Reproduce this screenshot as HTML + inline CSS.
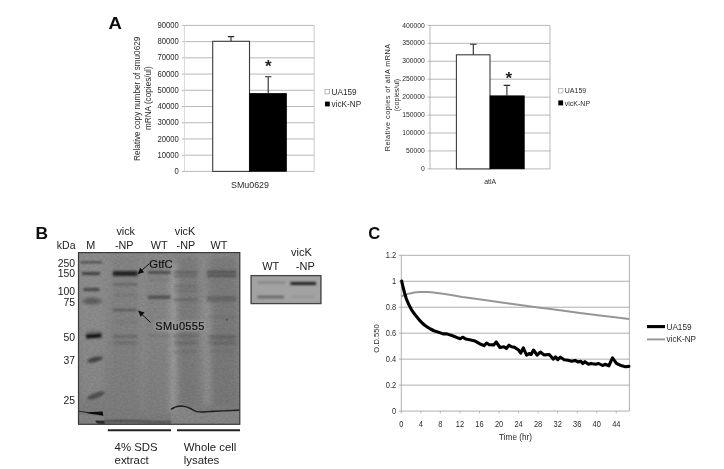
<!DOCTYPE html>
<html><head><meta charset="utf-8"><title>Figure</title>
<style>
html,body{margin:0;padding:0;background:#fff;}
body{width:724px;height:469px;overflow:hidden;}
svg{display:block;}
text{font-family:"Liberation Sans",sans-serif;}
</style></head><body>
<svg width="724" height="469" viewBox="0 0 724 469">
<defs>
<filter id="b1" filterUnits="userSpaceOnUse" x="60" y="230" width="280" height="220"><feGaussianBlur stdDeviation="1.2 0.9"/></filter>
<filter id="b2" filterUnits="userSpaceOnUse" x="60" y="230" width="280" height="220"><feGaussianBlur stdDeviation="2 1.6"/></filter>
<filter id="b3" filterUnits="userSpaceOnUse" x="60" y="230" width="200" height="220"><feGaussianBlur stdDeviation="3"/></filter>
<filter id="gsoft" x="0" y="0" width="724" height="469" filterUnits="userSpaceOnUse"><feGaussianBlur stdDeviation="0.45"/></filter>
<filter id="soft2" x="-10%" y="-30%" width="120%" height="160%"><feGaussianBlur stdDeviation="1"/></filter>
<filter id="soft" x="-5%" y="-5%" width="110%" height="110%"><feGaussianBlur stdDeviation="0.35"/></filter>
<filter id="noise" x="0" y="0" width="100%" height="100%"><feTurbulence type="fractalNoise" baseFrequency="0.35 0.6" numOctaves="3" seed="7"/><feColorMatrix type="matrix" values="0 0 0 0 0  0 0 0 0 0  0 0 0 0 0  1.6 0 0 0 -0.35"/></filter>
<linearGradient id="gelbg" x1="0" y1="0" x2="0" y2="1">
<stop offset="0" stop-color="#8f8f8f"/><stop offset="0.5" stop-color="#8a8a8a"/><stop offset="1" stop-color="#7e7e7e"/>
</linearGradient>
<clipPath id="gelclip"><rect x="78" y="252" width="162" height="172.5"/></clipPath>
<clipPath id="blotclip"><rect x="250.5" y="275" width="71" height="29"/></clipPath>
</defs>
<rect width="724" height="469" fill="#fff"/>
<g filter="url(#gsoft)">

<g id="chartA1">
<line x1="182.0" y1="171.40" x2="314.2" y2="171.40" stroke="#a6a6a6" stroke-width="0.8"/>
<text transform="translate(178.9,174.00) scale(0.865,1)" font-size="8.9" text-anchor="end" fill="#2a2a2a">0</text>
<line x1="182.0" y1="155.18" x2="314.2" y2="155.18" stroke="#a6a6a6" stroke-width="0.8"/>
<text transform="translate(178.9,157.78) scale(0.865,1)" font-size="8.9" text-anchor="end" fill="#2a2a2a">10000</text>
<line x1="182.0" y1="138.96" x2="314.2" y2="138.96" stroke="#a6a6a6" stroke-width="0.8"/>
<text transform="translate(178.9,141.56) scale(0.865,1)" font-size="8.9" text-anchor="end" fill="#2a2a2a">20000</text>
<line x1="182.0" y1="122.73" x2="314.2" y2="122.73" stroke="#a6a6a6" stroke-width="0.8"/>
<text transform="translate(178.9,125.33) scale(0.865,1)" font-size="8.9" text-anchor="end" fill="#2a2a2a">30000</text>
<line x1="182.0" y1="106.51" x2="314.2" y2="106.51" stroke="#a6a6a6" stroke-width="0.8"/>
<text transform="translate(178.9,109.11) scale(0.865,1)" font-size="8.9" text-anchor="end" fill="#2a2a2a">40000</text>
<line x1="182.0" y1="90.29" x2="314.2" y2="90.29" stroke="#a6a6a6" stroke-width="0.8"/>
<text transform="translate(178.9,92.89) scale(0.865,1)" font-size="8.9" text-anchor="end" fill="#2a2a2a">50000</text>
<line x1="182.0" y1="74.07" x2="314.2" y2="74.07" stroke="#a6a6a6" stroke-width="0.8"/>
<text transform="translate(178.9,76.67) scale(0.865,1)" font-size="8.9" text-anchor="end" fill="#2a2a2a">60000</text>
<line x1="182.0" y1="57.84" x2="314.2" y2="57.84" stroke="#a6a6a6" stroke-width="0.8"/>
<text transform="translate(178.9,60.44) scale(0.865,1)" font-size="8.9" text-anchor="end" fill="#2a2a2a">70000</text>
<line x1="182.0" y1="41.62" x2="314.2" y2="41.62" stroke="#a6a6a6" stroke-width="0.8"/>
<text transform="translate(178.9,44.22) scale(0.865,1)" font-size="8.9" text-anchor="end" fill="#2a2a2a">80000</text>
<line x1="182.0" y1="25.40" x2="314.2" y2="25.40" stroke="#a6a6a6" stroke-width="0.8"/>
<text transform="translate(178.9,28.00) scale(0.865,1)" font-size="8.9" text-anchor="end" fill="#2a2a2a">90000</text>
<line x1="184.5" y1="25.4" x2="184.5" y2="171.4" stroke="#d0d0d0" stroke-width="0.8"/>
<line x1="314.2" y1="25.4" x2="314.2" y2="171.4" stroke="#c0c0c0" stroke-width="0.8"/>
<rect x="212.7" y="41.3" width="36.8" height="130.10" fill="#fff" stroke="#3a3a3a" stroke-width="1.1"/>
<rect x="249.5" y="93.3" width="37.1" height="78.10" fill="#000" stroke="#000" stroke-width="0.6"/>
<path d="M231 41.3V36.6M227.8 36.6H234.2" stroke="#2a2a2a" stroke-width="1.1" fill="none"/>
<path d="M268.2 93.3V76.7M265 76.7H271.4" stroke="#2a2a2a" stroke-width="1.1" fill="none"/>
<text x="268.2" y="72" font-size="17" font-weight="bold" text-anchor="middle" fill="#222">*</text>
<text x="250" y="187.6" font-size="8.9" text-anchor="middle" fill="#2a2a2a">SMu0629</text>
<text transform="translate(139.8,98.8) rotate(-90)" font-size="8.2" text-anchor="middle" fill="#2a2a2a">Relative copy number of smu0629</text>
<text transform="translate(151,98.2) rotate(-90)" font-size="8.2" text-anchor="middle" fill="#2a2a2a">mRNA (copies/ul)</text>
<rect x="325" y="89.3" width="4.6" height="4.6" fill="#fff" stroke="#999" stroke-width="0.7"/>
<text x="331.6" y="94.6" font-size="8.2" fill="#2a2a2a">UA159</text>
<rect x="325" y="101.6" width="4.8" height="4.8" fill="#000"/>
<text x="331.6" y="107" font-size="8.2" fill="#2a2a2a">vicK-NP</text>
<text x="108.4" y="28.9" font-size="16.4" font-weight="bold" fill="#111" textLength="13.4" lengthAdjust="spacingAndGlyphs">A</text>
</g>
<g id="chartA2">
<line x1="427.5" y1="168.90" x2="550" y2="168.90" stroke="#a6a6a6" stroke-width="0.8"/>
<text transform="translate(424.8,171.00) scale(0.85,1)" font-size="8" text-anchor="end" fill="#2a2a2a">0</text>
<line x1="427.5" y1="150.96" x2="550" y2="150.96" stroke="#a6a6a6" stroke-width="0.8"/>
<text transform="translate(424.8,153.06) scale(0.85,1)" font-size="8" text-anchor="end" fill="#2a2a2a">50000</text>
<line x1="427.5" y1="133.03" x2="550" y2="133.03" stroke="#a6a6a6" stroke-width="0.8"/>
<text transform="translate(424.8,135.12) scale(0.85,1)" font-size="8" text-anchor="end" fill="#2a2a2a">100000</text>
<line x1="427.5" y1="115.09" x2="550" y2="115.09" stroke="#a6a6a6" stroke-width="0.8"/>
<text transform="translate(424.8,117.19) scale(0.85,1)" font-size="8" text-anchor="end" fill="#2a2a2a">150000</text>
<line x1="427.5" y1="97.15" x2="550" y2="97.15" stroke="#a6a6a6" stroke-width="0.8"/>
<text transform="translate(424.8,99.25) scale(0.85,1)" font-size="8" text-anchor="end" fill="#2a2a2a">200000</text>
<line x1="427.5" y1="79.21" x2="550" y2="79.21" stroke="#a6a6a6" stroke-width="0.8"/>
<text transform="translate(424.8,81.31) scale(0.85,1)" font-size="8" text-anchor="end" fill="#2a2a2a">250000</text>
<line x1="427.5" y1="61.28" x2="550" y2="61.28" stroke="#a6a6a6" stroke-width="0.8"/>
<text transform="translate(424.8,63.38) scale(0.85,1)" font-size="8" text-anchor="end" fill="#2a2a2a">300000</text>
<line x1="427.5" y1="43.34" x2="550" y2="43.34" stroke="#a6a6a6" stroke-width="0.8"/>
<text transform="translate(424.8,45.44) scale(0.85,1)" font-size="8" text-anchor="end" fill="#2a2a2a">350000</text>
<line x1="427.5" y1="25.40" x2="550" y2="25.40" stroke="#a6a6a6" stroke-width="0.8"/>
<text transform="translate(424.8,27.50) scale(0.85,1)" font-size="8" text-anchor="end" fill="#2a2a2a">400000</text>
<line x1="430" y1="25.4" x2="430" y2="168.9" stroke="#a6a6a6" stroke-width="0.8"/>
<line x1="550" y1="25.4" x2="550" y2="168.9" stroke="#a6a6a6" stroke-width="0.8"/>
<rect x="456.4" y="54.8" width="33.6" height="114.10" fill="#fff" stroke="#3a3a3a" stroke-width="1.1"/>
<rect x="490" y="95.8" width="34.3" height="73.10" fill="#000" stroke="#000" stroke-width="0.6"/>
<path d="M473.3 54.8V44.3M470 44.3H476.6" stroke="#2a2a2a" stroke-width="1.1" fill="none"/>
<path d="M506.9 95.8V85.4M503.6 85.4H510.2" stroke="#2a2a2a" stroke-width="1.1" fill="none"/>
<text x="508.9" y="84" font-size="17" font-weight="bold" text-anchor="middle" fill="#222">*</text>
<text x="490.2" y="184.4" font-size="6.9" text-anchor="middle" fill="#2a2a2a">atlA</text>
<text transform="translate(390.2,97.6) rotate(-90)" font-size="7.3" text-anchor="middle" fill="#2a2a2a" textLength="107.5" lengthAdjust="spacing">Relative  copies of atlA mRNA</text>
<text transform="translate(398.8,95.1) rotate(-90)" font-size="7" text-anchor="middle" fill="#2a2a2a">(copies/ul)</text>
<rect x="558.3" y="88.4" width="4.6" height="4.6" fill="#fff" stroke="#aaa" stroke-width="0.7"/>
<text x="564.8" y="93.4" font-size="7" fill="#2a2a2a">UA159</text>
<rect x="558.3" y="100.4" width="4.8" height="5" fill="#000"/>
<text x="564.8" y="105.6" font-size="7" fill="#2a2a2a">vicK-NP</text>
</g>
<g id="chartC">
<line x1="398.8" y1="411.10" x2="629.4" y2="411.10" stroke="#a6a6a6" stroke-width="0.9"/>
<text transform="translate(396.1,414.00) scale(0.9,1)" font-size="8.3" text-anchor="end" fill="#2a2a2a">0</text>
<line x1="398.8" y1="385.13" x2="629.4" y2="385.13" stroke="#a6a6a6" stroke-width="0.9"/>
<text transform="translate(396.1,388.03) scale(0.9,1)" font-size="8.3" text-anchor="end" fill="#2a2a2a">0.2</text>
<line x1="398.8" y1="359.17" x2="629.4" y2="359.17" stroke="#a6a6a6" stroke-width="0.9"/>
<text transform="translate(396.1,362.07) scale(0.9,1)" font-size="8.3" text-anchor="end" fill="#2a2a2a">0.4</text>
<line x1="398.8" y1="333.20" x2="629.4" y2="333.20" stroke="#a6a6a6" stroke-width="0.9"/>
<text transform="translate(396.1,336.10) scale(0.9,1)" font-size="8.3" text-anchor="end" fill="#2a2a2a">0.6</text>
<line x1="398.8" y1="307.23" x2="629.4" y2="307.23" stroke="#a6a6a6" stroke-width="0.9"/>
<text transform="translate(396.1,310.13) scale(0.9,1)" font-size="8.3" text-anchor="end" fill="#2a2a2a">0.8</text>
<line x1="398.8" y1="281.27" x2="629.4" y2="281.27" stroke="#a6a6a6" stroke-width="0.9"/>
<text transform="translate(396.1,284.17) scale(0.9,1)" font-size="8.3" text-anchor="end" fill="#2a2a2a">1</text>
<line x1="398.8" y1="255.30" x2="629.4" y2="255.30" stroke="#a6a6a6" stroke-width="0.9"/>
<text transform="translate(396.1,258.20) scale(0.9,1)" font-size="8.3" text-anchor="end" fill="#2a2a2a">1.2</text>
<line x1="401.3" y1="255.3" x2="401.3" y2="411.1" stroke="#a6a6a6" stroke-width="0.9"/>
<line x1="629.4" y1="255.3" x2="629.4" y2="411.1" stroke="#a6a6a6" stroke-width="0.9"/>
<line x1="401.30" y1="411.1" x2="401.30" y2="413.3" stroke="#a6a6a6" stroke-width="0.8"/>
<text transform="translate(401.30,426.5) scale(0.9,1)" font-size="8.3" text-anchor="middle" fill="#2a2a2a">0</text>
<line x1="420.84" y1="411.1" x2="420.84" y2="413.3" stroke="#a6a6a6" stroke-width="0.8"/>
<text transform="translate(420.84,426.5) scale(0.9,1)" font-size="8.3" text-anchor="middle" fill="#2a2a2a">4</text>
<line x1="440.39" y1="411.1" x2="440.39" y2="413.3" stroke="#a6a6a6" stroke-width="0.8"/>
<text transform="translate(440.39,426.5) scale(0.9,1)" font-size="8.3" text-anchor="middle" fill="#2a2a2a">8</text>
<line x1="459.93" y1="411.1" x2="459.93" y2="413.3" stroke="#a6a6a6" stroke-width="0.8"/>
<text transform="translate(459.93,426.5) scale(0.9,1)" font-size="8.3" text-anchor="middle" fill="#2a2a2a">12</text>
<line x1="479.48" y1="411.1" x2="479.48" y2="413.3" stroke="#a6a6a6" stroke-width="0.8"/>
<text transform="translate(479.48,426.5) scale(0.9,1)" font-size="8.3" text-anchor="middle" fill="#2a2a2a">16</text>
<line x1="499.02" y1="411.1" x2="499.02" y2="413.3" stroke="#a6a6a6" stroke-width="0.8"/>
<text transform="translate(499.02,426.5) scale(0.9,1)" font-size="8.3" text-anchor="middle" fill="#2a2a2a">20</text>
<line x1="518.56" y1="411.1" x2="518.56" y2="413.3" stroke="#a6a6a6" stroke-width="0.8"/>
<text transform="translate(518.56,426.5) scale(0.9,1)" font-size="8.3" text-anchor="middle" fill="#2a2a2a">24</text>
<line x1="538.11" y1="411.1" x2="538.11" y2="413.3" stroke="#a6a6a6" stroke-width="0.8"/>
<text transform="translate(538.11,426.5) scale(0.9,1)" font-size="8.3" text-anchor="middle" fill="#2a2a2a">28</text>
<line x1="557.65" y1="411.1" x2="557.65" y2="413.3" stroke="#a6a6a6" stroke-width="0.8"/>
<text transform="translate(557.65,426.5) scale(0.9,1)" font-size="8.3" text-anchor="middle" fill="#2a2a2a">32</text>
<line x1="577.20" y1="411.1" x2="577.20" y2="413.3" stroke="#a6a6a6" stroke-width="0.8"/>
<text transform="translate(577.20,426.5) scale(0.9,1)" font-size="8.3" text-anchor="middle" fill="#2a2a2a">36</text>
<line x1="596.74" y1="411.1" x2="596.74" y2="413.3" stroke="#a6a6a6" stroke-width="0.8"/>
<text transform="translate(596.74,426.5) scale(0.9,1)" font-size="8.3" text-anchor="middle" fill="#2a2a2a">40</text>
<line x1="616.28" y1="411.1" x2="616.28" y2="413.3" stroke="#a6a6a6" stroke-width="0.8"/>
<text transform="translate(616.28,426.5) scale(0.9,1)" font-size="8.3" text-anchor="middle" fill="#2a2a2a">44</text>
<text x="515.5" y="439.6" font-size="8.2" text-anchor="middle" fill="#2a2a2a">Time (hr)</text>
<text transform="translate(379.2,338.5) rotate(-90)" font-size="7.6" text-anchor="middle" fill="#2a2a2a">O.D.550</text>
<polyline fill="none" stroke="#969696" stroke-width="2" stroke-linejoin="round" points="401.6,296.5 403,295.6 406.5,294.4 410,293.4 414.2,292.6 419,292.1 423.8,291.9 428.5,292.1 433.4,292.5 443,293.8 452.6,295.3 462.2,296.9 471.8,298.2 484.3,300.1 500,302.3 520,305 540,307.7 560,310.3 580,312.9 600,315.4 615,317.2 629,318.9"/>
<polyline fill="none" stroke="#050505" stroke-width="3.1" stroke-linejoin="round" stroke-linecap="round" points="401.7,281.1 403,287 404.6,293 406,297.7 407.5,301.7 409.3,305.6 411.3,309.3 413.6,312.8 416.1,316.1 419,319.6 421.9,322.8 424.7,325.2 427.6,327.2 430.5,329 433.4,330.5 436.2,331.6 439.1,332.4 443,333.9 446.8,333.9 452.6,335.8 458.3,338.1 460.3,338.7 462.6,337.2 466,339.1 471.8,340.2 475.1,341.1 479.6,343.7 484.1,345.6 486.6,343 489.2,344.7 493.7,344.9 496.2,342 500,347.5 503.9,346.8 506.4,348.4 509,345.2 511.5,346.8 514.1,347.1 518.6,350 520.8,353.2 523.3,347.9 526.6,355.2 529.1,353.5 531.1,354.5 533.5,350 537.1,355.2 540.3,352 544.2,354.9 549.3,354.5 553.4,359.2 555.5,356.8 557.8,359.7 560.3,357.2 564.2,359.7 568,360.3 571.8,361.3 575,360.4 578.2,362 580.8,361.3 582.7,363.5 584.9,361.7 588.5,364.3 591,363.5 595.5,364.3 598.7,363.5 602.5,365.5 605.1,364.3 608.9,365.8 610.8,361.5 612.5,357.9 614.5,360.6 616.6,363.5 621.7,365.8 625.5,366.7 628.9,366.4"/>
<line x1="647" y1="326.6" x2="665" y2="326.6" stroke="#050505" stroke-width="3.1"/>
<text x="666.5" y="329.6" font-size="8.2" fill="#2a2a2a">UA159</text>
<line x1="647" y1="339.4" x2="665" y2="339.4" stroke="#969696" stroke-width="1.9"/>
<text x="666.5" y="342.4" font-size="8.2" fill="#2a2a2a">vicK-NP</text>
<text x="368.2" y="239.4" font-size="16.5" font-weight="bold" fill="#111">C</text>
</g>
<g id="panelB">
<text x="35.6" y="239.4" font-size="17.4" font-weight="bold" fill="#111">B</text>
<text x="66.2" y="249.2" font-size="10.5" text-anchor="middle" fill="#222">kDa</text>
<text x="90.8" y="249.2" font-size="10.8" text-anchor="middle" fill="#222">M</text>
<text x="125.7" y="234.6" font-size="10.8" text-anchor="middle" fill="#222">vick</text>
<text x="124.2" y="249.2" font-size="10.8" text-anchor="middle" fill="#222">-NP</text>
<text x="159.2" y="249.2" font-size="10.8" text-anchor="middle" fill="#222">WT</text>
<text x="185" y="234.6" font-size="10.8" text-anchor="middle" fill="#222">vicK</text>
<text x="185.9" y="249.2" font-size="10.8" text-anchor="middle" fill="#222">-NP</text>
<text x="219" y="249.2" font-size="10.8" text-anchor="middle" fill="#222">WT</text>
<text x="75" y="266.7" font-size="10.4" text-anchor="end" fill="#222">250</text>
<text x="75" y="277.09999999999997" font-size="10.4" text-anchor="end" fill="#222">150</text>
<text x="75" y="294.7" font-size="10.4" text-anchor="end" fill="#222">100</text>
<text x="75" y="306.2" font-size="10.4" text-anchor="end" fill="#222">75</text>
<text x="75" y="340.9" font-size="10.4" text-anchor="end" fill="#222">50</text>
<text x="75" y="363.9" font-size="10.4" text-anchor="end" fill="#222">37</text>
<text x="75" y="404.0" font-size="10.4" text-anchor="end" fill="#222">25</text>
<g clip-path="url(#gelclip)">
<rect x="78" y="252" width="162" height="172.5" fill="url(#gelbg)"/>
<rect x="80" y="258" width="24" height="140" fill="#949494" opacity="0.45" filter="url(#b3)"/>
<rect x="112" y="256" width="27" height="160" fill="#808080" opacity="0.5" filter="url(#b3)"/>
<rect x="147" y="256" width="24" height="160" fill="#848484" opacity="0.4" filter="url(#b3)"/>
<rect x="175" y="256" width="23" height="150" fill="#7a7a7a" opacity="0.7" filter="url(#b3)"/>
<rect x="209" y="256" width="28" height="150" fill="#787878" opacity="0.7" filter="url(#b3)"/>
<rect x="170" y="262" width="6.5" height="150" fill="#a8a8a8" opacity="0.85" filter="url(#b3)"/>
<rect x="204.5" y="300" width="6" height="105" fill="#a0a0a0" opacity="0.7" filter="url(#b3)"/>
<rect x="139" y="262" width="7" height="150" fill="#949494" opacity="0.35" filter="url(#b3)"/>
<rect x="80.5" y="261.40" width="21.5" height="1.8" fill="#3c3c3c" opacity="0.9" filter="url(#b1)"/>
<rect x="82" y="272.10" width="18" height="3" fill="#3a3a3a" opacity="0.9" filter="url(#b1)"/>
<rect x="83.5" y="288.00" width="16.0" height="3" fill="#404040" opacity="0.88" filter="url(#b1)"/>
<ellipse cx="92" cy="301" rx="9.5" ry="3.6" fill="#555" opacity="0.8" filter="url(#b2)" transform="rotate(0 92 301)"/>
<rect x="86" y="333.50" width="15.5" height="4.6" fill="#161616" opacity="1" filter="url(#b1)" transform="rotate(-4 93.8 335.8)"/>
<ellipse cx="94" cy="332" rx="7" ry="2" fill="#666" opacity="0.5" filter="url(#b2)" transform="rotate(0 94 332)"/>
<ellipse cx="95" cy="359.5" rx="8" ry="2.6" fill="#3c3c3c" opacity="0.9" filter="url(#b1)" transform="rotate(-14 95 359.5)"/>
<ellipse cx="96" cy="395.6" rx="9.4" ry="2.8" fill="#484848" opacity="0.85" filter="url(#b1)" transform="rotate(-20 96 395.6)"/>
<rect x="113" y="271.10" width="24.5" height="5" fill="#262626" opacity="1" filter="url(#b1)"/>
<rect x="113.5" y="283.30" width="23.5" height="2.2" fill="#585858" opacity="0.65" filter="url(#b1)"/>
<rect x="113" y="309.10" width="23.5" height="1.8" fill="#484848" opacity="0.8" filter="url(#b1)"/>
<rect x="113.5" y="335.10" width="23.5" height="2.6" fill="#5c5c5c" opacity="0.65" filter="url(#b1)"/>
<rect x="113.5" y="341.30" width="23.5" height="3" fill="#606060" opacity="0.6" filter="url(#b2)"/>
<rect x="114" y="294.00" width="23" height="2" fill="#686868" opacity="0.4" filter="url(#b1)"/>
<rect x="114" y="321.00" width="23" height="2" fill="#686868" opacity="0.3" filter="url(#b1)"/>
<rect x="148" y="270.90" width="22.5" height="3.2" fill="#4c4c4c" opacity="0.85" filter="url(#b1)"/>
<rect x="148" y="295.60" width="22.5" height="3.2" fill="#464646" opacity="0.85" filter="url(#b1)"/>
<rect x="148.5" y="279.00" width="21.5" height="2" fill="#666" opacity="0.35" filter="url(#b1)"/>
<rect x="148.5" y="334.75" width="21.5" height="2.5" fill="#666" opacity="0.3" filter="url(#b1)"/>
<rect x="174" y="271.10" width="23" height="2.4" fill="#585858" opacity="0.7" filter="url(#b1)"/>
<rect x="174" y="275.00" width="23" height="2" fill="#5c5c5c" opacity="0.6" filter="url(#b1)"/>
<rect x="174" y="285.40" width="23" height="2" fill="#646464" opacity="0.5" filter="url(#b1)"/>
<rect x="174" y="290.00" width="23" height="2" fill="#646464" opacity="0.45" filter="url(#b1)"/>
<rect x="174" y="298.50" width="23" height="2.6" fill="#5e5e5e" opacity="0.6" filter="url(#b1)"/>
<rect x="174" y="334.20" width="23" height="3.6" fill="#606060" opacity="0.55" filter="url(#b2)"/>
<rect x="174" y="341.20" width="23" height="3.6" fill="#606060" opacity="0.55" filter="url(#b2)"/>
<rect x="174" y="350.50" width="23" height="3" fill="#666" opacity="0.35" filter="url(#b2)"/>
<rect x="207" y="270.70" width="29" height="2.6" fill="#484848" opacity="0.8" filter="url(#b1)"/>
<rect x="207" y="274.60" width="29" height="2.4" fill="#4c4c4c" opacity="0.8" filter="url(#b1)"/>
<rect x="207" y="296.60" width="29" height="2.6" fill="#585858" opacity="0.7" filter="url(#b1)"/>
<rect x="207" y="299.70" width="29" height="2.2" fill="#5c5c5c" opacity="0.6" filter="url(#b1)"/>
<rect x="209" y="335.20" width="27" height="3.6" fill="#585858" opacity="0.65" filter="url(#b2)"/>
<rect x="209" y="341.20" width="27" height="3.6" fill="#5c5c5c" opacity="0.6" filter="url(#b2)"/>
<rect x="209" y="349.50" width="27" height="3" fill="#666" opacity="0.35" filter="url(#b2)"/>
<rect x="208" y="316.00" width="28" height="2" fill="#666" opacity="0.3" filter="url(#b1)"/>
<circle cx="227" cy="319.5" r="0.9" fill="#444" opacity="0.8"/>
<path d="M78 411 L88 412.6" stroke="#333" stroke-width="1.2" fill="none" filter="url(#soft)"/>
<path d="M87.5 412.3 L102.6 411.6 L103.4 415.8 L96 414.4 L87.5 413.6Z" fill="#0c0c0c" filter="url(#soft)"/>
<path d="M78 414.5 L104 416.5 L104 424.5 L78 424.5Z" fill="#8e8e8e" opacity="0.5"/>
<path d="M95 420.4 L104.6 420.8 L104.6 424 L97 423.4Z" fill="#2e2e2e" filter="url(#soft)"/>
<path d="M104 421.6 L118 420.9 L135 421.2 L150 422 L171 422.2" stroke="#3a3a3a" stroke-width="2" fill="none" opacity="0.8" filter="url(#b1)"/>
<path d="M171 424.5 L171 409.4 Q175.5 406 181 406 Q187 406.2 191.5 409 Q196 412.4 203 412 Q215 411 225 410.8 Q234 410 240 410.2 L240 424.5Z" fill="#929292" opacity="0.55"/>
<path d="M171 409.4 Q175.5 406 181 406 Q187 406.2 191.5 409 Q196 412.4 203 412 Q215 411 225 410.8 Q234 410 240 410.2" stroke="#222" stroke-width="1.5" fill="none" filter="url(#soft)"/>
<rect x="78" y="252" width="162" height="172.5" filter="url(#noise)" opacity="0.10"/>
</g>
<rect x="78.5" y="252.6" width="161.3" height="171.7" fill="none" stroke="#3a3a3a" stroke-width="1.2"/>
<path d="M149.5 263.5 L141 271" stroke="#111" stroke-width="1" fill="none"/><path d="M137.6 274.2 L140.2 267.8 L144.2 272.2Z" fill="#111"/>
<path d="M150.5 322.5 L141.5 314" stroke="#111" stroke-width="1" fill="none"/><path d="M138 310.6 L144.6 312.4 L140.6 316.8Z" fill="#111"/>
<text x="161" y="267.5" font-size="11.4" text-anchor="middle" fill="#111" stroke="#111" stroke-width="0.15">GtfC</text>
<text x="180" y="330.4" font-size="11" text-anchor="middle" letter-spacing="0.35" fill="none" stroke="#a0a0a0" stroke-width="3" opacity="0.6" filter="url(#soft2)">SMu0555</text>
<text x="180" y="330.4" font-size="11" text-anchor="middle" fill="#111" letter-spacing="0.35" stroke="#111" stroke-width="0.2">SMu0555</text>
<line x1="107.8" y1="430.2" x2="171" y2="430.2" stroke="#222" stroke-width="1.9"/>
<line x1="177" y1="430.2" x2="240" y2="430.2" stroke="#222" stroke-width="1.9"/>
<text x="114.6" y="450.6" font-size="11.4" text-anchor="start" fill="#222">4% SDS</text>
<text x="114.6" y="464.4" font-size="11.4" text-anchor="start" fill="#222">extract</text>
<text x="183.8" y="450.6" font-size="11.4" text-anchor="start" fill="#222">Whole cell</text>
<text x="183.8" y="464.4" font-size="11.4" text-anchor="start" fill="#222">lysates</text>
<text x="270.7" y="269.8" font-size="11" text-anchor="middle" fill="#222">WT</text>
<text x="301.4" y="255.6" font-size="11" text-anchor="middle" fill="#222">vicK</text>
<text x="305.3" y="269.8" font-size="11" text-anchor="middle" fill="#222">-NP</text>
<g clip-path="url(#blotclip)">
<rect x="250.5" y="275" width="71" height="29" fill="#a2a2a2"/>
<rect x="257.5" y="281.60" width="27.5" height="2" fill="#777" opacity="0.7" filter="url(#b1)"/>
<rect x="257.5" y="295.70" width="26.5" height="2.6" fill="#555" opacity="0.8" filter="url(#b1)"/>
<rect x="290.5" y="282.10" width="25.5" height="2.8" fill="#151515" opacity="1" filter="url(#b1)"/>
<rect x="292" y="296.00" width="22" height="2" fill="#8a8a8a" opacity="0.6" filter="url(#b1)"/>
</g>
<rect x="251.1" y="275.6" width="69.8" height="28" fill="none" stroke="#444" stroke-width="1.3"/>
</g>
</g></svg></body></html>
